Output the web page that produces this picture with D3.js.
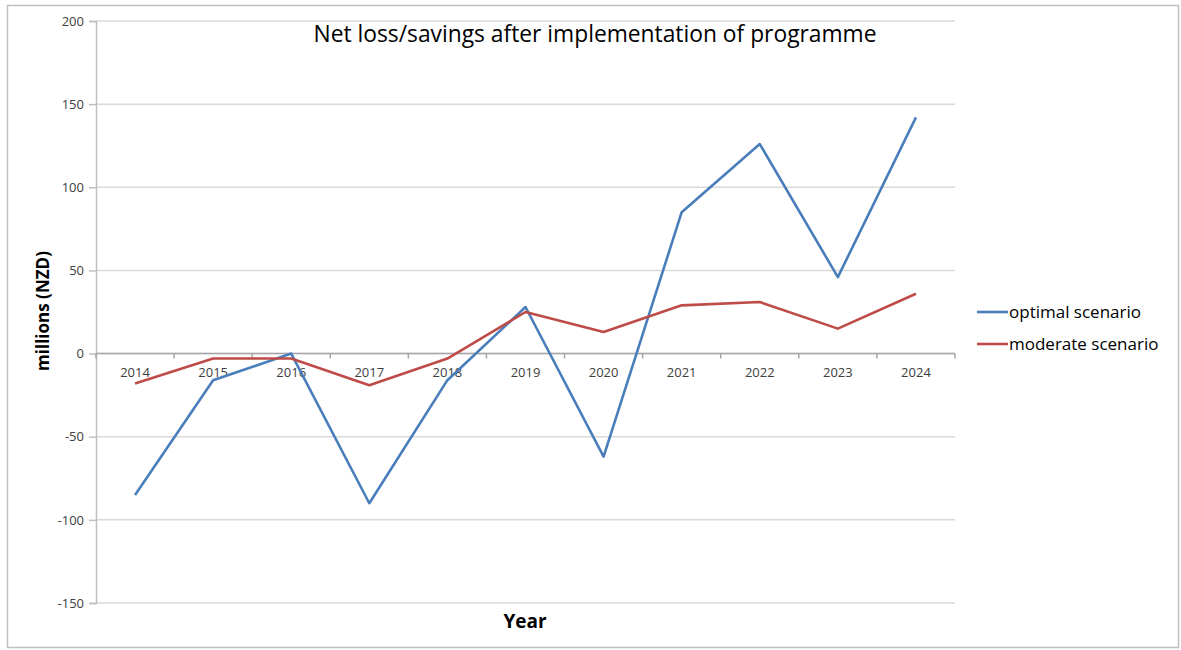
<!DOCTYPE html>
<html>
<head>
<meta charset="utf-8">
<script src="https://cdn.jsdelivr.net/npm/d3@7"></script>
<style>
  body { margin: 0; background: #fff; }
  text { font-family: "Open Sans", "Noto Sans", sans-serif; }
</style>
</head>
<body>
<div class="chart"></div>
<script>
// chart values
var years = ["2014", "2015", "2016", "2017", "2018", "2019", "2020", "2021", "2022", "2023", "2024"];
var optimal = [-85, -16, 0, -90, -16, 28, -62, 85, 126, 46, 142];
var moderate = [-18, -3, -3, -19, -3, 25, 13, 29, 31, 15, 36];
var yTicks = [-150, -100, -50, 0, 50, 100, 150, 200];
var seriesNames = ["optimal scenario", "moderate scenario"];
var seriesColors = ["#4a7ebb", "#be4b48"];

var svgWidth = 1181;
var svgHeight = 650;

var margin = {
    top : 21,
    right : 226,
    bottom : 47,
    left : 96
};

var width = svgWidth - margin.left - margin.right;
var height = svgHeight - margin.top - margin.bottom;

var svg = d3.select(".chart").append("svg")
    .attr("width", svgWidth).attr("height", svgHeight);

// outer frame
svg.append("rect")
    .attr("x", 7.5).attr("y", 5.5)
    .attr("width", 1171).attr("height", 642)
    .attr("fill", "none").attr("stroke", "#bfbfbf").attr("stroke-width", 1.5);

var chartGroup = svg.append("g").attr("transform", `translate(${margin.left},${margin.top})`);

var xScale = d3.scaleBand().domain(years).range([0, width]);
var yScale = d3.scaleLinear().domain([-150, 200]).range([height, 0]);

// gridlines
chartGroup.selectAll(".grid")
    .data(yTicks).enter().append("line")
    .attr("x1", 0).attr("x2", width)
    .attr("y1", d => yScale(d)).attr("y2", d => yScale(d))
    .attr("stroke", "#d9d9d9").attr("stroke-width", 1.5);

// y axis
var leftAxis = d3.axisLeft(yScale).tickValues(yTicks)
    .tickFormat(d => String(d)).tickSize(7).tickPadding(5);
var yAxis = chartGroup.append("g").call(leftAxis);
yAxis.select(".domain").attr("stroke", "#bfbfbf").attr("stroke-width", 1.5);
yAxis.selectAll(".tick line").attr("stroke", "#bfbfbf").attr("stroke-width", 1.5);
yAxis.selectAll(".tick text")
    .attr("font-size", "13px").attr("fill", "#404040")
    .style("font-family", "Open Sans, sans-serif");

// x axis at zero, ticks at band edges
var xAxisG = chartGroup.append("g").attr("transform", `translate(0, ${yScale(0)})`);
xAxisG.append("line")
    .attr("x1", 0).attr("x2", width)
    .attr("stroke", "#a6a6a6").attr("stroke-width", 1.5);
xAxisG.selectAll(".xtick")
    .data(years.concat(["end"])).enter().append("line")
    .attr("x1", (d, i) => i * xScale.step()).attr("x2", (d, i) => i * xScale.step())
    .attr("y1", 0).attr("y2", 5)
    .attr("stroke", "#a6a6a6").attr("stroke-width", 1.5);
xAxisG.selectAll(".xlabel")
    .data(years).enter().append("text")
    .attr("x", d => xScale(d) + xScale.bandwidth() / 2)
    .attr("y", 23)
    .attr("text-anchor", "middle")
    .attr("font-size", "13px").attr("fill", "#404040")
    .text(d => d);

// lines
var line = d3.line()
    .x((d, i) => xScale(years[i]) + xScale.bandwidth() / 2)
    .y(d => yScale(d));

[optimal, moderate].forEach(function(values, i) {
    chartGroup.append("path")
        .datum(values)
        .attr("d", line)
        .attr("fill", "none")
        .attr("stroke", seriesColors[i])
        .attr("stroke-width", 2.6)
        .attr("stroke-linejoin", "round");
});

// title
svg.append("text")
    .attr("x", 595).attr("y", 42)
    .attr("text-anchor", "middle")
    .attr("font-size", "22.8px").attr("fill", "#000")
    .attr("textLength", 563).attr("lengthAdjust", "spacingAndGlyphs")
    .text("Net loss/savings after implementation of programme");

// axis titles
svg.append("text")
    .attr("transform", "rotate(-90)")
    .attr("x", -311).attr("y", 49)
    .attr("text-anchor", "middle")
    .attr("font-size", "17px").attr("font-weight", "bold")
    .text("millions (NZD)");

svg.append("text")
    .attr("x", 525).attr("y", 628)
    .attr("text-anchor", "middle")
    .attr("font-size", "19px").attr("font-weight", "bold")
    .text("Year");

// legend
var legend = svg.append("g").attr("transform", "translate(977, 312)");
seriesNames.forEach(function(name, i) {
    legend.append("line")
        .attr("x1", 0).attr("x2", 31)
        .attr("y1", i * 32).attr("y2", i * 32)
        .attr("stroke", seriesColors[i]).attr("stroke-width", 2.6);
    legend.append("text")
        .attr("x", 32).attr("y", i * 32 + 6)
        .attr("font-size", "17px").attr("fill", "#000")
        .text(name);
});
</script>
</body>
</html>
